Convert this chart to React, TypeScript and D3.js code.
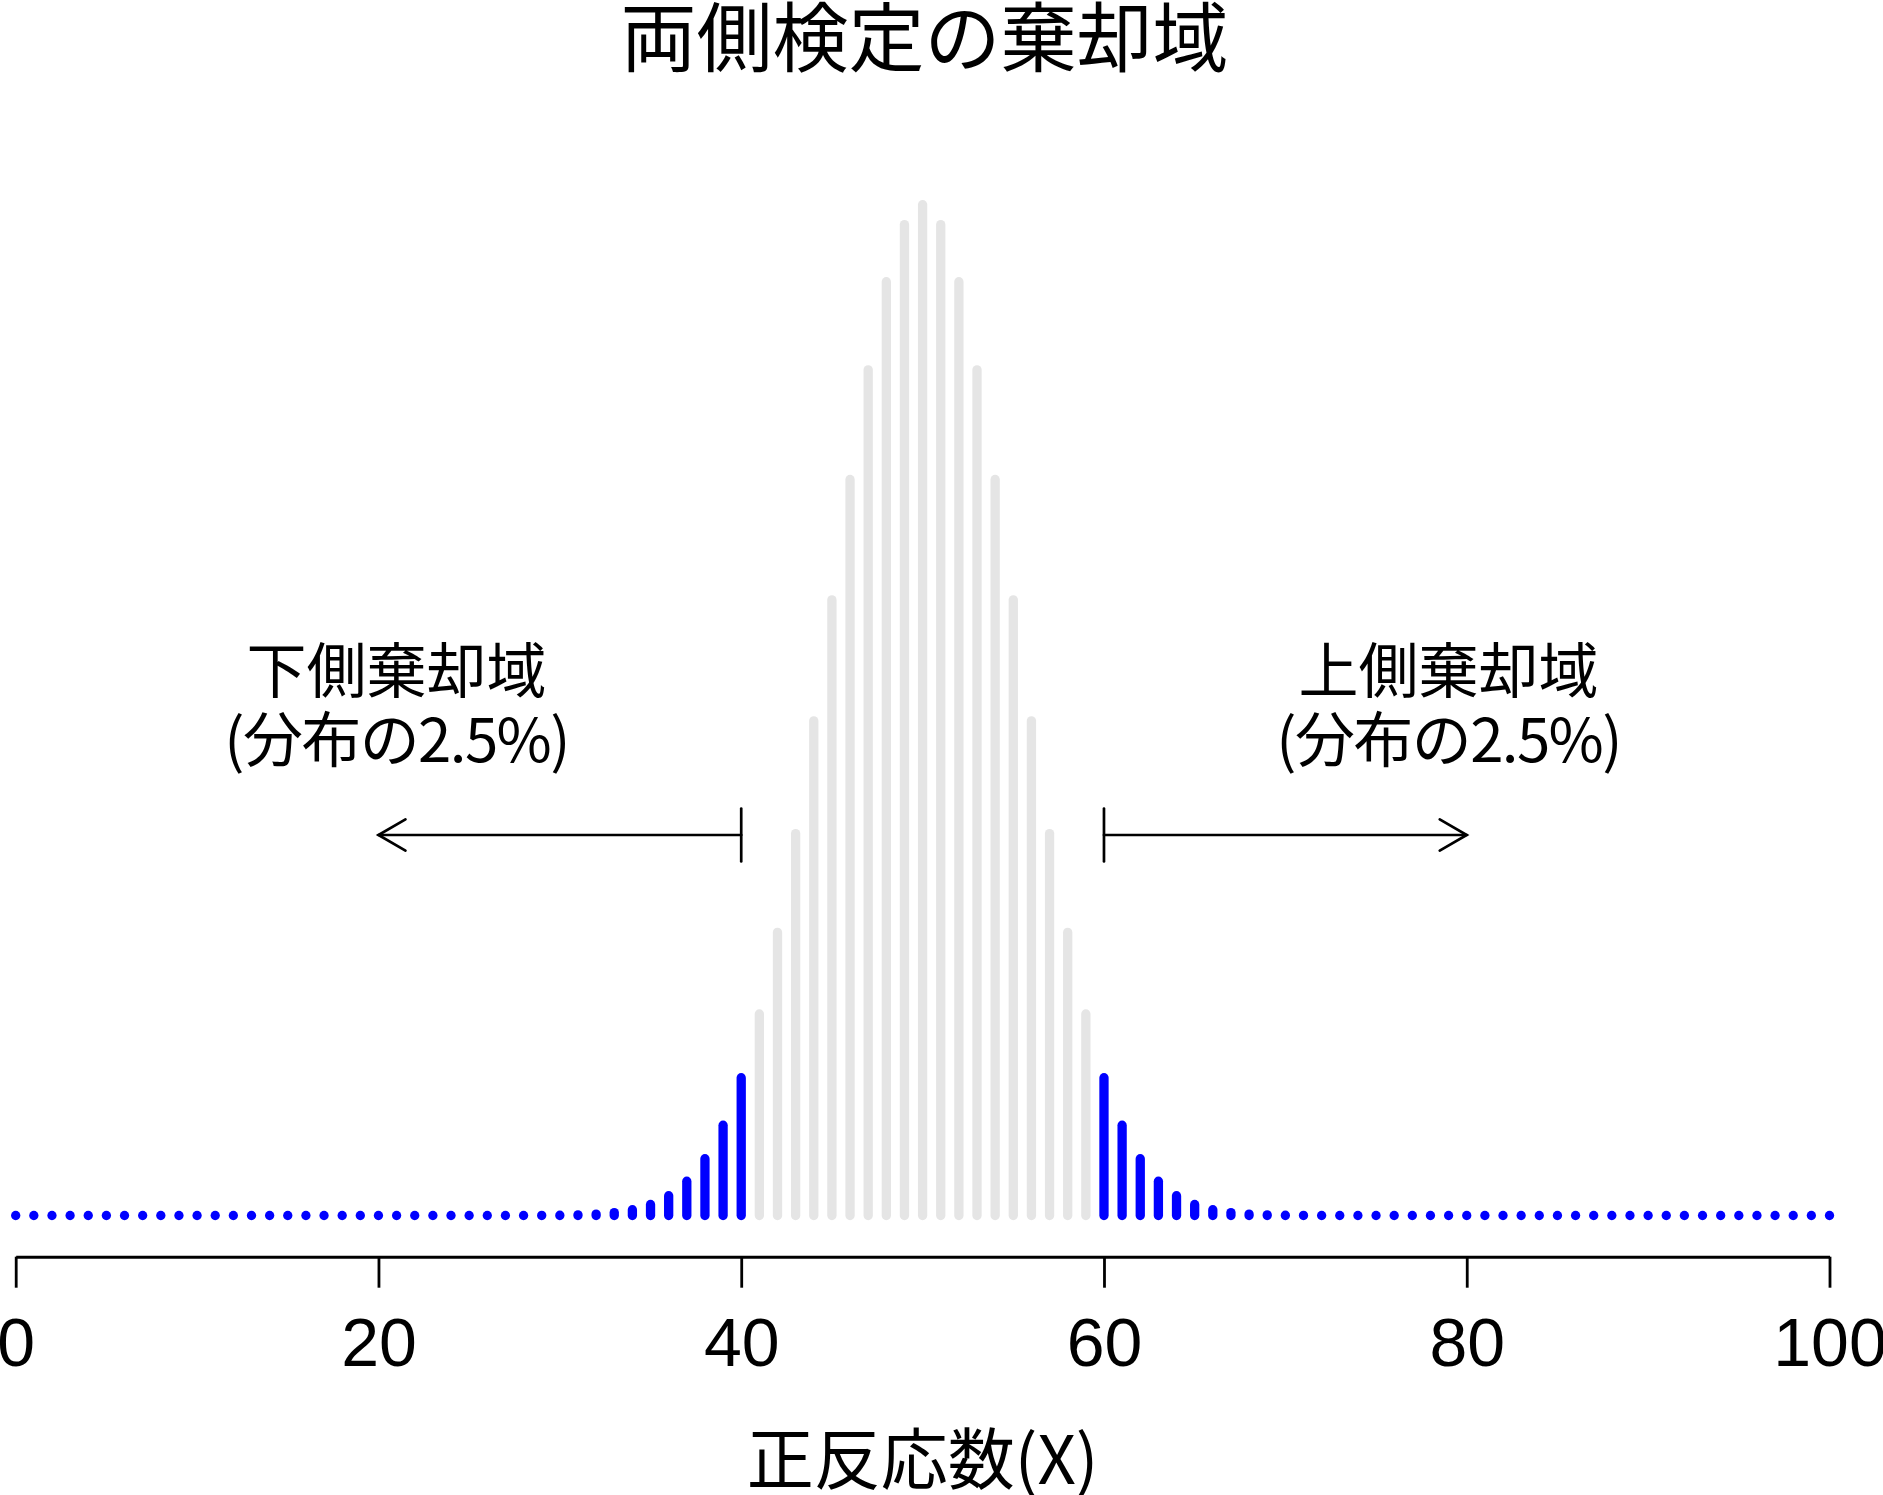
import React, { useEffect, useRef } from 'react';
import { select, scaleLinear, axisBottom } from 'd3';

// binomial pmf, X = 0..100
const probs = [
  0, 0, 0, 0, 0, 0, 0, 0, 0, 0,
  0, 0, 0, 0, 0, 0, 0, 0, 0, 0,
  0, 0, 0, 0, 0, 0.0000002, 0.0000005, 0.0000015, 0.0000039, 0.0000098,
  0.0000232, 0.0000523, 0.0001128, 0.0002325, 0.0004581, 0.0008639, 0.0015597, 0.0026979, 0.0044729, 0.0071107,
  0.0108439, 0.0158691, 0.0222923, 0.0300686, 0.0389526, 0.0484743, 0.0579584, 0.0665905, 0.073527, 0.0780287,
  0.0795892,
  0.0780287, 0.073527, 0.0665905, 0.0579584, 0.0484743, 0.0389526, 0.0300686, 0.0222923, 0.0158691, 0.0108439,
  0.0071107, 0.0044729, 0.0026979, 0.0015597, 0.0008639, 0.0004581, 0.0002325, 0.0001128, 0.0000523, 0.0000232,
  0.0000098, 0.0000039, 0.0000015, 0.0000005, 0.0000002, 0, 0, 0, 0, 0,
  0, 0, 0, 0, 0, 0, 0, 0, 0, 0,
  0, 0, 0, 0, 0, 0, 0, 0, 0, 0,
];
const responses = probs.map((_, i) => i);

const tickValues = [0, 20, 40, 60, 80, 100];
const lowerCrit = 40;
const upperCrit = 60;

const titleText = '両側検定の棄却域';
const xLabelText = '正反応数(X)';
const lowerLines = ['下側棄却域', '(分布の2.5%)'];
const upperLines = ['上側棄却域', '(分布の2.5%)'];

const jpFont = '"Noto Sans CJK JP", sans-serif';
const numFont = '"Liberation Sans", Arial, sans-serif';

const Chart = ({ width = 1883, height = 1495 }) => {
  const svgRef = useRef(null);

  useEffect(() => {
    const svg = select(svgRef.current);
    svg.selectAll('*').remove();

    const x = scaleLinear().domain([0, 100]).range([15.7, 1829.5]);
    const y = scaleLinear().domain([0, 0.08]).range([1215.5, 1215.5 - 0.08 * 12700]);

    // bars (type = "h")
    svg.append('g')
      .selectAll('line')
      .data(responses)
      .enter()
      .append('line')
      .attr('x1', d => x(d))
      .attr('x2', d => x(d))
      .attr('y1', y(0))
      .attr('y2', d => y(probs[d]) - 0.01)
      .attr('stroke', d => (d <= lowerCrit || d >= upperCrit ? '#0000ff' : '#e5e5e5'))
      .attr('stroke-width', 9.3)
      .attr('stroke-linecap', 'round');

    // x axis
    const axisG = svg.append('g')
      .attr('transform', 'translate(0,1256.7)')
      .call(axisBottom(x).tickValues(tickValues).tickSize(31).tickSizeOuter(0).tickPadding(30).tickFormat(d => String(d)));
    axisG.select('.domain').attr('stroke', '#000').attr('stroke-width', 3);
    axisG.selectAll('.tick line').attr('stroke', '#000').attr('stroke-width', 2.8);
    axisG.selectAll('.tick text')
      .attr('fill', '#000')
      .style('font-family', numFont)
      .style('font-size', '68px');

    // title
    svg.append('text')
      .attr('x', x(50) + 2)
      .attr('y', 66)
      .attr('text-anchor', 'middle')
      .style('font-family', jpFont)
      .style('font-size', '76px')
      .text(titleText);

    // x label
    svg.append('text')
      .attr('x', x(50))
      .attr('y', 1484)
      .attr('text-anchor', 'middle')
      .style('font-family', jpFont)
      .style('font-size', '67px')
      .text(xLabelText);

    // region annotations
    const notes = [
      { at: 21, lines: lowerLines },
      { at: 79, lines: upperLines },
    ];
    notes.forEach(n => {
      n.lines.forEach((ln, i) => {
        svg.append('text')
          .attr('x', x(n.at))
          .attr('y', 693 + i * 69)
          .attr('text-anchor', 'middle')
          .style('font-family', jpFont)
          .style('font-size', '60px')
          .style('letter-spacing', i === 1 ? '-1.6px' : '0px')
          .text(ln);
      });
    });

    // arrows from the critical values outward
    const arrowY = 835;
    const arrows = [
      { from: lowerCrit, to: 20 },
      { from: upperCrit, to: 80 },
    ];
    const ag = svg.append('g')
      .attr('stroke', '#000')
      .attr('stroke-width', 2.7)
      .attr('fill', 'none')
      .attr('stroke-linecap', 'round');
    arrows.forEach(a => {
      const x0 = x(a.from);
      const x1 = x(a.to);
      const dir = x1 > x0 ? 1 : -1;
      ag.append('line').attr('x1', x0).attr('x2', x0).attr('y1', arrowY - 26.5).attr('y2', arrowY + 26.5);
      ag.append('line').attr('x1', x0).attr('x2', x1).attr('y1', arrowY).attr('y2', arrowY);
      ag.append('path')
        .attr('d', `M${x1 - dir * 27},${arrowY - 15.6}L${x1},${arrowY}L${x1 - dir * 27},${arrowY + 15.6}`);
    });
  }, [width, height]);

  return (
    <svg
      ref={svgRef}
      width={width}
      height={height}
      style={{ position: 'absolute', left: 0, top: 0, background: '#fff' }}
    />
  );
};

export default function App() {
  return <Chart />;
}
